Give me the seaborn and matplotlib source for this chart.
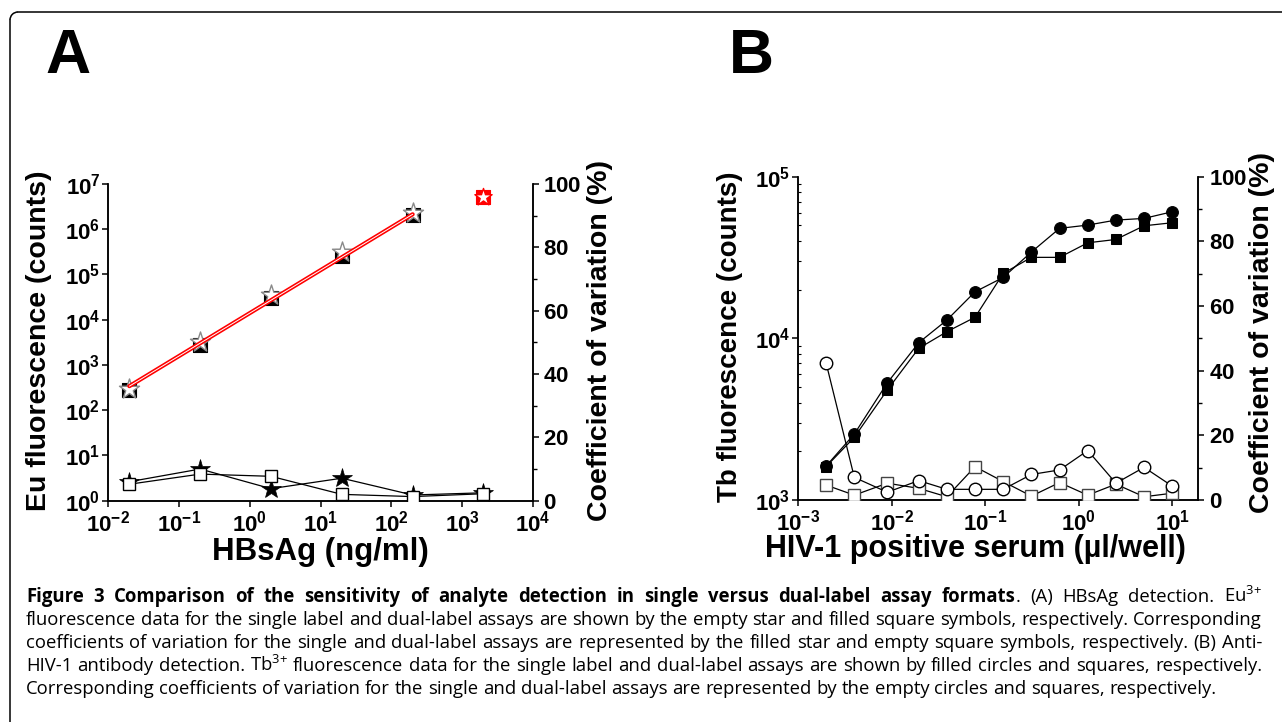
import matplotlib
matplotlib.use("Agg")
import numpy as np
import pandas as pd
import matplotlib.pyplot as plt
import seaborn as sns
from matplotlib.lines import Line2D
from matplotlib.patches import Arc
from matplotlib.ticker import FixedLocator, FixedFormatter, NullFormatter, NullLocator

# ---------------- data ----------------
# Panel A: HBsAg detection
hbsag = [0.02, 0.2, 2, 20, 200, 2000]
eu_single = [290, 3250, 35000, 3.2e5, 2.25e6]      # empty stars (single label)
eu_dual = [280, 2750, 29700, 2.6e5, 2.06e6]        # filled squares (dual label)
outlier_x = [2000]
outlier_y = [5.1e6]
fit_x = [0.02, 200]
fit_y = [340, 2.14e6]
cv_single_a = [6.0, 10.0, 3.8, 7.1, 1.8, 2.5]      # filled stars
cv_dual_a = [5.2, 8.4, 7.7, 2.0, 1.3, 2.2]         # empty squares

# Panel B: anti-HIV-1 antibody detection
serum = [0.002, 0.004, 0.009, 0.0195, 0.039, 0.078, 0.156, 0.3125, 0.625, 1.25, 2.5, 5, 10]
tb_single = [1623, 2560, 5300, 9390, 12970, 19400, 23800, 34200, 47900, 50200, 53900, 55200, 60700]
tb_dual = [1610, 2445, 4790, 8670, 10990, 13500, 25200, 31700, 31700, 39000, 40900, 49700, 51900]
cv_single_b = [42.3, 7.0, 2.4, 6.0, 3.3, 3.3, 3.3, 7.9, 9.3, 15.3, 5.2, 10.1, 4.3]
cv_dual_b = [4.6, 1.5, 5.2, 3.6, 1.0, 10.3, 5.7, 1.2, 5.4, 1.5, 4.9, 1.0, 2.1]

# tick labels
a_xticks = [1e-2, 1e-1, 1e0, 1e1, 1e2, 1e3, 1e4]
a_xlabels = [r"$\mathbf{10^{-2}}$", r"$\mathbf{10^{-1}}$", r"$\mathbf{10^{0}}$", r"$\mathbf{10^{1}}$",
             r"$\mathbf{10^{2}}$", r"$\mathbf{10^{3}}$", r"$\mathbf{10^{4}}$"]
a_yticks = [1e0, 1e1, 1e2, 1e3, 1e4, 1e5, 1e6, 1e7]
a_ylabels = [r"$\mathbf{10^{%d}}$" % i for i in range(8)]
b_xticks = [1e-3, 1e-2, 1e-1, 1e0, 1e1]
b_xlabels = [r"$\mathbf{10^{-3}}$", r"$\mathbf{10^{-2}}$", r"$\mathbf{10^{-1}}$", r"$\mathbf{10^{0}}$",
             r"$\mathbf{10^{1}}$"]
b_yticks = [1e3, 1e4, 1e5]
b_ylabels = [r"$\mathbf{10^{3}}$", r"$\mathbf{10^{4}}$", r"$\mathbf{10^{5}}$"]
cv_ticks = [0, 20, 40, 60, 80, 100]
cv_minor = [10, 30, 50, 70, 90]

caption_bold = "Figure 3 Comparison of the sensitivity of analyte detection in single versus dual-label assay formats"
caption_rest = ". (A) HBsAg detection. Eu$^{3{+}}$"
caption_lines = [
    "fluorescence data for the single label and dual-label assays are shown by the empty star and filled square symbols, respectively. Corresponding",
    "coefficients of variation for the single and dual-label assays are represented by the filled star and empty square symbols, respectively. (B) Anti-",
    "HIV-1 antibody detection. Tb$^{3{+}}$ fluorescence data for the single label and dual-label assays are shown by filled circles and squares, respectively.",
    "Corresponding coefficients of variation for the single and dual-label assays are represented by the empty circles and squares, respectively.",
]

# ---------------- style ----------------
sns.set_style("ticks")
plt.rcParams["font.family"] = ["Liberation Sans", "DejaVu Sans"]
plt.rcParams["mathtext.fontset"] = "custom"
plt.rcParams["mathtext.rm"] = "Open Sans"
plt.rcParams["mathtext.bf"] = "Liberation Sans:bold"
plt.rcParams["axes.linewidth"] = 1.1
for key in ("text.color", "axes.labelcolor", "xtick.color", "ytick.color", "axes.edgecolor"):
    plt.rcParams[key] = "black"

W, H = 1282, 722
fig = plt.figure(figsize=(W / 100, H / 100), dpi=100)


def fx(px):
    return px / W


def fy(py):
    return 1 - py / H


def style_axes(ax, ax2):
    for a in (ax, ax2):
        a.spines["top"].set_visible(False)
        for s in ("left", "right", "bottom"):
            a.spines[s].set_linewidth(1.1)
            a.spines[s].set_color("black")
    ax2.set_ylim(0, 100)
    ax2.yaxis.set_major_locator(FixedLocator(cv_ticks))
    ax2.yaxis.set_minor_locator(FixedLocator(cv_minor))
    ax2.yaxis.set_major_formatter(FixedFormatter([r"$\mathbf{%d}$" % v for v in cv_ticks]))
    ax2.tick_params(axis="y", which="major", direction="out", length=4.5, width=1.1,
                    labelsize=16, pad=3, colors="black")
    ax2.tick_params(axis="y", which="minor", direction="out", length=3, width=1.0)
    ax.tick_params(axis="both", which="major", direction="out", length=4.5, width=1.1,
                   labelsize=16, pad=1, colors="black")
    ax.tick_params(axis="x", which="major", pad=2.5)


# ---------------- panel A ----------------
axA = fig.add_axes([fx(108), fy(500.7), fx(533) - fx(108), fy(184) - fy(500.7)])
axA.set_xscale("log")
axA.set_yscale("log")
axA.set_xlim(1e-2, 1e4)
axA.set_ylim(1e0, 1e7)
axA2 = axA.twinx()

sns.scatterplot(x=hbsag[:5], y=eu_dual, ax=axA, marker="s", s=95, color="black",
                edgecolor="black", linewidth=0.8, zorder=3)
sns.scatterplot(x=hbsag[:5], y=eu_single, ax=axA, marker="*", s=230, color="white",
                edgecolor="#8a8a8a", linewidth=1.0, zorder=4)
sns.scatterplot(x=outlier_x, y=outlier_y, ax=axA, marker="s", s=100, color="red",
                edgecolor="red", linewidth=0.8, zorder=4)
sns.scatterplot(x=outlier_x, y=outlier_y, ax=axA, marker="*", s=170, color="white",
                edgecolor="red", linewidth=1.0, zorder=5)
sns.lineplot(x=fit_x, y=fit_y, ax=axA, color="red", linewidth=3.0, zorder=6)
sns.lineplot(x=fit_x, y=fit_y, ax=axA, color="white", linewidth=0.7, zorder=7)

sns.lineplot(x=hbsag, y=cv_single_a, ax=axA2, color="black", linewidth=0.9, marker="*",
             markersize=15, markerfacecolor="black", markeredgecolor="black",
             markeredgewidth=0.5, estimator=None, sort=False, zorder=3)
sns.lineplot(x=hbsag, y=cv_dual_a, ax=axA2, color="black", linewidth=0.9, marker="s",
             markersize=9, markerfacecolor="white", markeredgecolor="black",
             markeredgewidth=1.0, estimator=None, sort=False, zorder=4)

style_axes(axA, axA2)
axA.xaxis.set_major_locator(FixedLocator(a_xticks))
axA.xaxis.set_major_formatter(FixedFormatter(a_xlabels))
axA.xaxis.set_minor_locator(NullLocator())
axA.yaxis.set_major_locator(FixedLocator(a_yticks))
axA.yaxis.set_major_formatter(FixedFormatter(a_ylabels))
axA.yaxis.set_minor_locator(NullLocator())
axA.set_xlim(1e-2, 1e4)
axA.set_ylim(1e0, 1e7)

axA.set_xlabel("HBsAg (ng/ml)", fontsize=22.5, fontweight="bold")
axA.xaxis.set_label_coords(0.5, -0.162)
axA.xaxis.label.set_va("center")
axA.set_ylabel("Eu fluorescence (counts)", fontsize=20.5, fontweight="bold")
axA.yaxis.set_label_coords((39 - 108) / 425, 0.504)
axA.yaxis.label.set_va("center")
axA2.set_ylabel("Coefficient of variation (%)", fontsize=20.5, fontweight="bold")
axA2.yaxis.set_label_coords((600 - 108) / 425, 0.507)
axA2.yaxis.label.set_va("center")

# ---------------- panel B ----------------
bl, br, bb, bt = 798, 1198.3, 500, 176.7
axB = fig.add_axes([fx(bl), fy(bb), fx(br) - fx(bl), fy(bt) - fy(bb)])
axB.set_xscale("log")
axB.set_yscale("log")
axB.set_xlim(1e-3, 19)
axB.set_ylim(1e3, 1e5)
axB2 = axB.twinx()

sns.lineplot(x=serum, y=tb_dual, ax=axB, color="black", linewidth=0.9, marker="s",
             markersize=7.5, markerfacecolor="black", markeredgecolor="black",
             estimator=None, sort=False, zorder=3)
sns.lineplot(x=serum, y=tb_single, ax=axB, color="black", linewidth=0.9, marker="o",
             markersize=8.5, markerfacecolor="black", markeredgecolor="black",
             estimator=None, sort=False, zorder=4)
sns.lineplot(x=serum, y=cv_dual_b, ax=axB2, color="black", linewidth=0.9, marker="s",
             markersize=8, markerfacecolor="white", markeredgecolor="#444444",
             markeredgewidth=1.0, estimator=None, sort=False, zorder=3)
sns.lineplot(x=serum, y=cv_single_b, ax=axB2, color="black", linewidth=0.9, marker="o",
             markersize=9, markerfacecolor="white", markeredgecolor="black",
             markeredgewidth=1.0, estimator=None, sort=False, zorder=4)

style_axes(axB, axB2)
axB.xaxis.set_major_locator(FixedLocator(b_xticks))
axB.xaxis.set_major_formatter(FixedFormatter(b_xlabels))
axB.xaxis.set_minor_locator(NullLocator())
axB.yaxis.set_major_locator(FixedLocator(b_yticks))
axB.yaxis.set_major_formatter(FixedFormatter(b_ylabels))
axB.yaxis.set_minor_locator(FixedLocator([m * 10 ** e for e in (3, 4) for m in range(2, 10)]))
axB.yaxis.set_minor_formatter(NullFormatter())
axB.tick_params(axis="y", which="minor", direction="in", length=2.5, width=0.8)
axB.set_xlim(1e-3, 19)
axB.set_ylim(1e3, 1e5)

axB.set_xlabel("HIV-1 positive serum (\u00b5l/well)", fontsize=22, fontweight="bold")
axB.xaxis.set_label_coords((975 - bl) / (br - bl), (bb - 549) / (bb - bt))
axB.xaxis.label.set_va("center")
axB.set_ylabel("Tb fluorescence (counts)", fontsize=20, fontweight="bold")
axB.yaxis.set_label_coords((730 - bl) / (br - bl), 0.506)
axB.yaxis.label.set_va("center")
axB2.set_ylabel("Coefficient of variation (%)", fontsize=20.5, fontweight="bold")
axB2.yaxis.set_label_coords((1262 - bl) / (br - bl), 0.518)
axB2.yaxis.label.set_va("center")

# ---------------- panel letters ----------------
fig.text(fx(45), fy(73), "A", fontsize=45, fontweight="bold", ha="left", va="baseline")
fig.text(fx(729), fy(73), "B", fontsize=45, fontweight="bold", ha="left", va="baseline")

# ---------------- frame ----------------
r = 0.08
fig.add_artist(Line2D([0.10 + r, W / 100], [7.10, 7.10], color="black", lw=1.1,
                      transform=fig.dpi_scale_trans))
fig.add_artist(Line2D([0.10, 0.10], [0.0, 7.10 - r], color="black", lw=1.1,
                      transform=fig.dpi_scale_trans))
fig.add_artist(Arc((0.10 + r, 7.10 - r), 2 * r, 2 * r, theta1=90, theta2=180, color="black",
                   lw=1.1, transform=fig.dpi_scale_trans))

# ---------------- caption (justified lines) ----------------
cap_family = ["Open Sans", "DejaVu Sans"]
cap_left, cap_width = 26, 1236
renderer = fig.canvas.get_renderer()
probe = fig.text(0, 0, caption_lines[0], fontsize=10, family=cap_family)
cap_size = 10 * cap_width / probe.get_window_extent(renderer).width
probe.remove()


def text_width(s, weight="normal"):
    t = fig.text(0, 0, s, fontsize=cap_size, fontweight=weight, family=cap_family)
    w = t.get_window_extent(renderer).width
    t.remove()
    return w


space_w = text_width("a a") - text_width("aa")


def caption_line(y_px, words, justify=True):
    # words: list of words, each a list of (text, weight) pieces set side by side
    placed = []
    total = 0
    for word in words:
        pieces = []
        for txt, wt in word:
            t = fig.text(0, fy(y_px), txt, fontsize=cap_size, fontweight=wt,
                         family=cap_family, va="baseline", ha="left")
            w = t.get_window_extent(renderer).width
            pieces.append((t, w))
            total += w
        placed.append(pieces)
    gap = (cap_width - total) / (len(words) - 1) if justify else space_w
    x = cap_left
    for pieces in placed:
        for t, w in pieces:
            t.set_x(x / W)
            x += w
        x += gap


line1 = [[(w, "bold")] for w in caption_bold.split()]
rest = caption_rest.split()
line1[-1].append((rest[0], "normal"))
line1 += [[(w, "normal")] for w in rest[1:]]
caption_line(601.7, line1)
for i, line in enumerate(caption_lines):
    caption_line(625 + i * 22.9, [[(w, "normal")] for w in line.split()],
                 justify=(i < len(caption_lines) - 1))

fig.savefig("out.png", dpi=100)
